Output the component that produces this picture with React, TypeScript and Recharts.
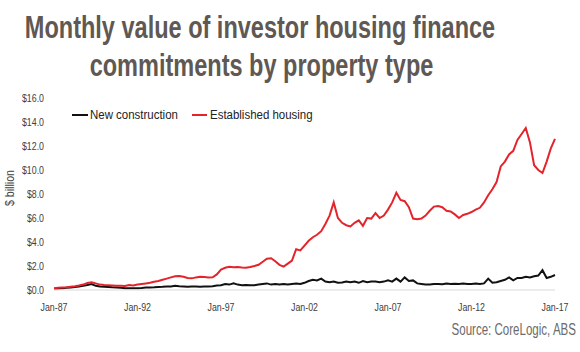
import React from "react";
import { LineChart, Line, XAxis, YAxis } from "recharts";

// Quarterly readings, Jan-87 .. Jan-17 ($ billion)
const established: number[] = [
  0.15, 0.18, 0.2, 0.22, 0.27, 0.32, 0.38, 0.45, // 87-88
  0.58, 0.65, 0.55, 0.45, 0.42, 0.4, 0.38, 0.36, // 89-90
  0.35, 0.33, 0.42, 0.38, 0.45, 0.5, 0.55, 0.6, // 91-92
  0.68, 0.75, 0.85, 0.95, 1.05, 1.15, 1.17, 1.1, // 93-94
  1.0, 0.97, 1.05, 1.1, 1.08, 1.05, 1.06, 1.3, // 95-96
  1.7, 1.85, 1.94, 1.9, 1.92, 1.88, 1.86, 1.92, // 97-98
  2.0, 2.1, 2.35, 2.6, 2.65, 2.4, 2.1, 1.95, // 99-00
  2.2, 2.45, 3.4, 3.3, 3.7, 4.1, 4.4, 4.6, // 01-02
  4.9, 5.5, 6.2, 7.3, 6.0, 5.6, 5.4, 5.3, // 03-04
  5.6, 5.8, 5.35, 6.0, 5.95, 6.4, 6.0, 6.2, // 05-06
  6.7, 7.3, 8.1, 7.5, 7.4, 6.9, 5.95, 5.9, // 07-08
  5.95, 6.2, 6.6, 6.95, 7.0, 6.9, 6.6, 6.55, // 09-10
  6.3, 6.0, 6.25, 6.35, 6.5, 6.7, 6.85, 7.3, // 11-12
  7.9, 8.4, 9.0, 10.3, 10.7, 11.3, 11.6, 12.5, // 13-14
  13.0, 13.5, 12.3, 10.4, 10.0, 9.75, 10.7, 11.8, // 15-16
  12.6, // Jan-17
];

const newConstruction: number[] = [
  0.1, 0.12, 0.15, 0.18, 0.2, 0.25, 0.3, 0.35,
  0.42, 0.5, 0.35, 0.3, 0.28, 0.25, 0.22, 0.2,
  0.18, 0.15, 0.15, 0.15, 0.15, 0.17, 0.2, 0.2,
  0.22, 0.25, 0.27, 0.3, 0.3, 0.35, 0.32, 0.3,
  0.28, 0.3, 0.3, 0.28, 0.3, 0.3, 0.32, 0.38,
  0.4, 0.5, 0.45, 0.55, 0.45, 0.4, 0.42, 0.4,
  0.4, 0.45, 0.5, 0.55, 0.45, 0.5, 0.45, 0.5,
  0.45, 0.5, 0.55, 0.5, 0.6, 0.75, 0.85, 0.8,
  0.95, 0.7, 0.65, 0.7, 0.6, 0.62, 0.7, 0.65,
  0.7, 0.6, 0.75, 0.65, 0.7, 0.7, 0.65, 0.7,
  0.8, 0.7, 0.95, 0.7, 1.05, 0.75, 0.8, 0.55,
  0.5, 0.45, 0.45, 0.5, 0.5, 0.48, 0.55, 0.5,
  0.52, 0.5, 0.55, 0.5, 0.5, 0.55, 0.5, 0.55,
  0.95, 0.6, 0.65, 0.75, 0.85, 1.05, 0.8, 1.0,
  1.0, 1.1, 1.05, 1.15, 1.2, 1.65, 1.0, 1.1,
  1.25,
];

const tickLabels: string[] = ["Jan-87", "Jan-92", "Jan-97", "Jan-02", "Jan-07", "Jan-12", "Jan-17"];
const tickMonths: number[] = [0, 60, 120, 180, 240, 300, 360];
const yTicks: number[] = [0, 2, 4, 6, 8, 10, 12, 14, 16];

const seriesNames = { nc: "New construction", est: "Established housing" };
const titleLines = ["Monthly value of investor housing finance", "commitments by property type"];
const sourceText = "Source: CoreLogic, ABS";
const yLabel = "$ billion";

const data = established.map((v, i) => ({ m: i * 3, est: v, nc: newConstruction[i] }));

const SANS = "'Liberation Sans', Arial, sans-serif";
const SQ = 0.8; // horizontal squeeze of the reference's lettering

const XTick = (props: any) => {
  const { x, y, payload } = props;
  const label = tickLabels[tickMonths.indexOf(payload.value)] ?? "";
  return (
    <text
      transform={`translate(${x},${y}) scale(${SQ},1)`}
      x={0}
      y={0}
      dy="0.71em"
      textAnchor="middle"
      fontFamily={SANS}
      fontSize={11}
      fill="#404040"
    >
      {label}
    </text>
  );
};

const YTick = (props: any) => {
  const { x, y, payload } = props;
  return (
    <text
      transform={`translate(${x},${y}) scale(${SQ},1)`}
      x={0}
      y={0}
      dy="0.355em"
      textAnchor="end"
      fontFamily={SANS}
      fontSize={11}
      fill="#404040"
    >
      {`$${Number(payload.value).toFixed(1)}`}
    </text>
  );
};

export default function App() {
  return (
    <div style={{ position: "absolute", left: 0, top: 0, width: 580, height: 352, background: "#fff" }}>
      <LineChart
        width={580}
        height={352}
        data={data}
        margin={{ top: 98, right: 25, bottom: 32, left: 14 }}
      >
        <XAxis
          dataKey="m"
          type="number"
          domain={[0, 360]}
          ticks={tickMonths}
          axisLine={{ stroke: "#d9d9d9", strokeWidth: 1 }}
          tickLine={false}
          tickSize={6}
          tickMargin={7}
          height={30}
          tick={<XTick />}
        />
        <YAxis
          type="number"
          domain={[0, 16]}
          ticks={yTicks}
          axisLine={false}
          tickLine={false}
          tickMargin={4}
          width={40}
          tick={<YTick />}
        />
        <Line
          type="linear"
          dataKey="nc"
          name={seriesNames.nc}
          stroke="#111111"
          strokeWidth={2}
          dot={false}
          isAnimationActive={false}
        />
        <Line
          type="linear"
          dataKey="est"
          name={seriesNames.est}
          stroke="#e3242b"
          strokeWidth={2}
          dot={false}
          isAnimationActive={false}
        />
      </LineChart>
      <svg
        width={580}
        height={352}
        style={{ position: "absolute", left: 0, top: 0, pointerEvents: "none" }}
      >
        <text
          transform="translate(260,38) scale(0.735,1)"
          x={0}
          y={0}
          textAnchor="middle"
          fontFamily={SANS}
          fontWeight="bold"
          fontSize={32}
          fill="#5f5853"
        >
          {titleLines[0]}
        </text>
        <text
          transform="translate(261.5,75.5) scale(0.735,1)"
          x={0}
          y={0}
          textAnchor="middle"
          fontFamily={SANS}
          fontWeight="bold"
          fontSize={32}
          fill="#5f5853"
        >
          {titleLines[1]}
        </text>
        <line x1={72} y1={115} x2={88} y2={115} stroke="#111111" strokeWidth={2} />
        <text transform="translate(90,119) scale(0.85,1)" x={0} y={0} fontFamily={SANS} fontSize={13.5} fill="#222">
          {seriesNames.nc}
        </text>
        <line x1={192} y1={115} x2={207} y2={115} stroke="#e3242b" strokeWidth={2} />
        <text transform="translate(210,119) scale(0.85,1)" x={0} y={0} fontFamily={SANS} fontSize={13.5} fill="#222">
          {seriesNames.est}
        </text>
        <text
          transform="translate(14,188) rotate(-90) scale(0.85,1)"
          x={0}
          y={0}
          textAnchor="middle"
          fontFamily={SANS}
          fontSize={12.5}
          fill="#404040"
        >
          {yLabel}
        </text>
        <text
          transform="translate(576,335) scale(0.7,1)"
          x={0}
          y={0}
          textAnchor="end"
          fontFamily={SANS}
          fontSize={16.5}
          fill="#6b6b6b"
        >
          {sourceText}
        </text>
      </svg>
    </div>
  );
}
